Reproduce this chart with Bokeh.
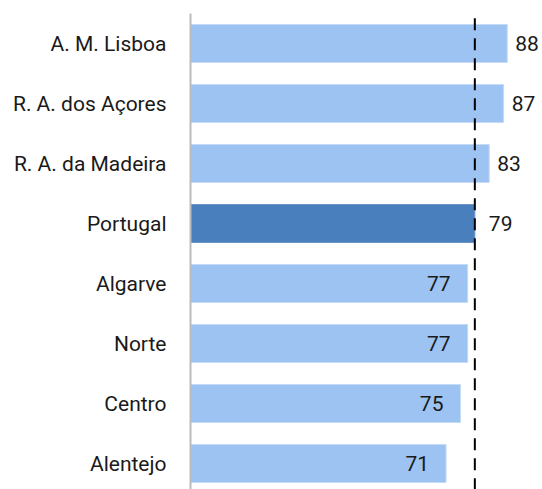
from bokeh.plotting import figure
from bokeh.models import Range1d, FixedTicker, ColumnDataSource
from bokeh.core.properties import value
from bokeh.embed import file_html
from bokeh.resources import INLINE

categories = ["A. M. Lisboa", "R. A. dos Açores", "R. A. da Madeira", "Portugal",
              "Algarve", "Norte", "Centro", "Alentejo"]
values = [88, 87, 83, 79, 77, 77, 75, 71]
reference_name = "Portugal"

FONT = "Roboto"
LIGHT = "#9dc3f2"
DARK = "#4a7fbd"

ref_value = values[categories.index(reference_name)]
pos = list(range(len(categories)))
colors = [DARK if c == reference_name else LIGHT for c in categories]
edge = ["#6b95c8" if c == reference_name else "#c4daf6" for c in categories]

offsets, aligns = [], []
for v in values:
    if v > ref_value:
        offsets.append(8); aligns.append("left")
    elif v == ref_value:
        offsets.append(14); aligns.append("left")
    else:
        offsets.append(-17); aligns.append("right")

src = ColumnDataSource(dict(y=pos, v=values, color=colors, edge=edge,
                            lab=[str(v) for v in values], off=offsets, align=aligns))

p = figure(width=542, height=489, output_backend="svg", toolbar_location=None,
           x_range=Range1d(0, 97.8), y_range=Range1d(len(categories) - 0.567, -0.5),
           min_border_left=190, min_border_top=13, min_border_bottom=0, min_border_right=0)
p.outline_line_color = None
p.grid.visible = False
p.xaxis.visible = False

p.hbar(y="y", right="v", left=0, height=0.633, fill_color="color",
       line_color="edge", line_width=1, source=src)

p.segment(x0=[ref_value], x1=[ref_value], y0=[-0.42], y1=[len(categories)],
          line_color="black", line_width=2, line_dash="12 8")

p.text(x="v", y="y", text="lab", x_offset="off", text_align="align",
       text_baseline="middle", text_font=value(FONT), text_font_size="21px",
       text_color="#1a1a1a", source=src)

ya = p.yaxis[0]
ya.ticker = FixedTicker(ticks=pos)
ya.major_label_overrides = {i: c for i, c in enumerate(categories)}
ya.major_tick_line_color = None
ya.minor_tick_line_color = None
ya.major_tick_in = 0
ya.major_tick_out = 0
ya.axis_line_color = "#bbbbbb"
ya.axis_line_width = 2
ya.major_label_standoff = 24
ya.major_label_text_font = FONT
ya.major_label_text_font_size = "21px"
ya.major_label_text_color = "#1a1a1a"

open("out.html", "w").write(file_html(p, INLINE))
